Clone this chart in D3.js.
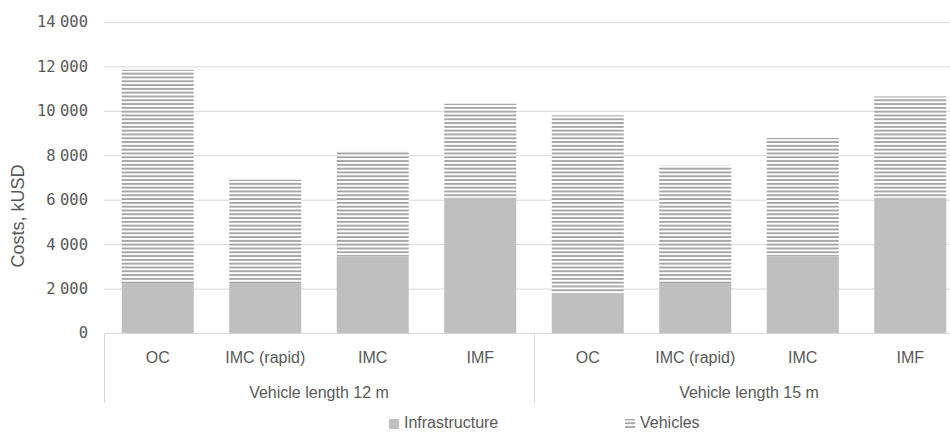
<!DOCTYPE html>
<html>
<head>
<meta charset="utf-8">
<script src="https://cdn.jsdelivr.net/npm/d3@7"></script>
<style>
  html, body { margin: 0; padding: 0; background: #fff; }
  svg { display: block; }
  .lbl { font-family: "Liberation Sans", Arial, sans-serif; fill: #595959; }
  .tick-lbl { font-family: "DejaVu Sans Mono", monospace; fill: #595959; word-spacing: -5px; }
</style>
</head>
<body>
<svg id="chart" width="950" height="432"></svg>
<script>
// Cost breakdown per transit configuration (kUSD)
const groups = ["Vehicle length 12 m", "Vehicle length 15 m"];
const types = ["OC", "IMC (rapid)", "IMC", "IMF"];
const infrastructure = [2250, 2250, 3450, 6100, 1770, 2250, 3450, 6100];
const vehicles = [9600, 4650, 4750, 4220, 8030, 5280, 5330, 4550];
const yTicks = [0, 2000, 4000, 6000, 8000, 10000, 12000, 14000];
const seriesNames = ["Infrastructure", "Vehicles"];

const svg = d3.select("#chart");
const plotLeft = 104, plotRight = 964, plotTop = 22, plotBottom = 333;

const rows = [];
groups.forEach((g, gi) => types.forEach((t, ti) => {
  const i = gi * types.length + ti;
  rows.push({ key: i, group: g, type: t, Infrastructure: infrastructure[i], Vehicles: vehicles[i] });
}));

const x = d3.scaleBand().domain(rows.map(d => d.key)).range([plotLeft, plotRight])
  .paddingInner(0.33).paddingOuter(0.165);
const y = d3.scaleLinear().domain([0, 14000]).range([plotBottom, plotTop]);

// striped fill used for the vehicles segment
const defs = svg.append("defs");
const pat = defs.append("pattern").attr("id", "stripes")
  .attr("patternUnits", "userSpaceOnUse").attr("width", 8).attr("height", 3.8)
  .attr("y", plotBottom);
pat.append("rect").attr("width", 8).attr("height", 3.8).attr("fill", "#ffffff");
pat.append("rect").attr("y", 1.9).attr("width", 8).attr("height", 1.9).attr("fill", "#a6a6a6");

// gridlines
svg.append("g").selectAll("line").data(yTicks.filter(v => v > 0)).join("line")
  .attr("x1", plotLeft).attr("x2", 950)
  .attr("y1", d => y(d) + 0.5).attr("y2", d => y(d) + 0.5)
  .attr("stroke", "#d9d9d9").attr("stroke-width", 1);

// y tick labels
const yAxis = d3.axisLeft(y).tickValues(yTicks).tickSize(0).tickPadding(0)
  .tickFormat(d => d3.format(",")(d).replace(/,/g, " "));
const ya = svg.append("g").attr("transform", `translate(88,0)`).call(yAxis);
ya.attr("font-family", null).attr("font-size", null);
ya.select(".domain").remove();
ya.selectAll("text").attr("class", "tick-lbl").attr("font-size", "15.5px")
  .attr("fill", "#595959");

// stacked bars
const stack = d3.stack().keys(seriesNames)(rows);
const fills = { Infrastructure: "#bfbfbf", Vehicles: "url(#stripes)" };
svg.append("g").selectAll("g").data(stack).join("g")
  .attr("fill", s => fills[s.key])
  .selectAll("rect").data(s => s).join("rect")
  .attr("x", d => x(d.data.key))
  .attr("width", x.bandwidth())
  .attr("y", d => y(d[1]))
  .attr("height", d => y(d[0]) - y(d[1]));

// category axis baseline and group separators
svg.append("line").attr("x1", plotLeft).attr("x2", 950)
  .attr("y1", plotBottom + 0.5).attr("y2", plotBottom + 0.5)
  .attr("stroke", "#d9d9d9");
const step = x.step();
const sepX = [0, types.length, groups.length * types.length].map(i => plotLeft + i * step);
svg.append("g").selectAll("line").data(sepX).join("line")
  .attr("x1", d => Math.round(d) + 0.5).attr("x2", d => Math.round(d) + 0.5)
  .attr("y1", plotBottom).attr("y2", 403)
  .attr("stroke", "#d9d9d9");

// category labels
svg.append("g").selectAll("text").data(rows).join("text")
  .attr("class", "lbl").attr("font-size", "16px")
  .attr("x", d => x(d.key) + x.bandwidth() / 2).attr("y", 363)
  .attr("text-anchor", "middle").text(d => d.type);

// group labels
svg.append("g").selectAll("text").data(groups).join("text")
  .attr("class", "lbl").attr("font-size", "16px")
  .attr("x", (d, i) => plotLeft + (i * types.length + types.length / 2) * step)
  .attr("y", 398).attr("text-anchor", "middle").text(d => d);

// y axis title
svg.append("text").attr("class", "lbl").attr("font-size", "18px")
  .attr("transform", "translate(24,216) rotate(-90)")
  .attr("text-anchor", "middle").text("Costs, kUSD");

// legend
const legend = svg.append("g");
const legendItems = [
  { name: seriesNames[0], x: 389, fill: fills.Infrastructure },
  { name: seriesNames[1], x: 625, fill: fills.Vehicles }
];
const li = legend.selectAll("g").data(legendItems).join("g")
  .attr("transform", d => `translate(${d.x},0)`);
li.append("rect").attr("x", 0).attr("y", 419).attr("width", 10).attr("height", 10)
  .attr("fill", d => d.fill);
li.append("text").attr("class", "lbl").attr("font-size", "16px")
  .attr("x", 15).attr("y", 428).text(d => d.name);
</script>
</body>
</html>
